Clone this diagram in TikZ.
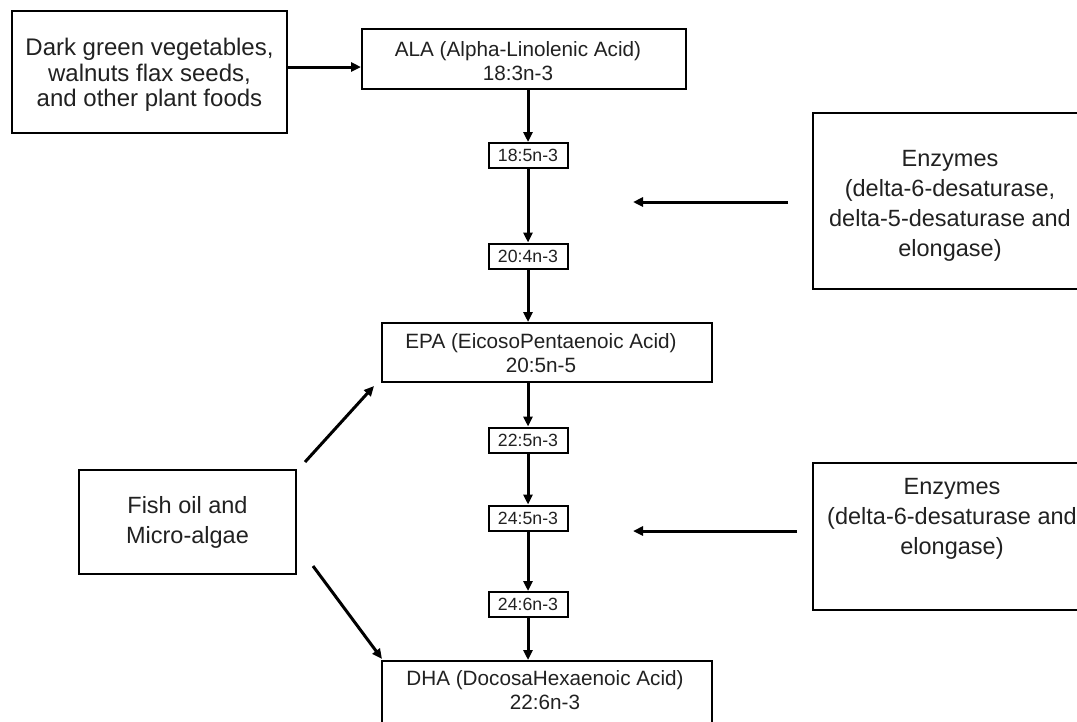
\documentclass[tikz,border=0pt]{standalone}
\usepackage{fontspec}
\setmainfont{Liberation Sans}
\usetikzlibrary{arrows.meta}
\definecolor{txtcol}{gray}{0.13}
\begin{document}
\begin{tikzpicture}[x=1pt,y=-1pt,
  boxst/.style={draw=black, line width=2pt, rectangle, inner sep=0pt},
  bigtxt/.style={font=\fontsize{23.5}{28.5}\selectfont, align=center, text=txtcol, inner sep=0pt},
  midtxt/.style={font=\fontsize{20.7}{24}\selectfont, align=center, text=txtcol, inner sep=0pt},
  smallbox/.style={draw=black, line width=2pt, minimum width=79pt, minimum height=25pt, inner sep=0pt, font=\fontsize{17.7}{20}\selectfont, text=txtcol},
  arr/.style={line width=3pt, -{Triangle[length=10pt,width=9pt]}},
]
\useasboundingbox (0,0) rectangle (1077,721);
\clip (0,0) rectangle (1077,721);
\fill[white] (0,0) rectangle (1077,721);

% source box
\node[boxst, minimum width=275pt, minimum height=122pt] (src) at (149.5,72) {};
\node[bigtxt, font=\fontsize{24}{25.5}\selectfont] (srcT) at (149.5,75) {Dark green vegetables,\\walnuts flax seeds,\\and other plant foods};

% ALA
\node[boxst, minimum width=324pt, minimum height=60pt] (ala) at (524,59) {};
\node[midtxt] (alaT) at (518,61) {ALA (Alpha-Linolenic Acid)\\18:3n-3};

% small boxes
\node[smallbox] (s1) at (528,155.5) {18:5n-3};
\node[smallbox] (s2) at (528,256) {20:4n-3};

% EPA
\node[boxst, minimum width=330pt, minimum height=59pt] (epa) at (547,352.5) {};
\node[midtxt] (epaT) at (541,353) {EPA (EicosoPentaenoic Acid)\\20:5n-5};

\node[smallbox] (s3) at (528,440) {22:5n-3};
\node[smallbox] (s4) at (528,518) {24:5n-3};
\node[smallbox] (s5) at (528,604.5) {24:6n-3};

% DHA
\node[boxst, minimum width=330pt, minimum height=84pt] (dha) at (547,703) {};
\node[midtxt] (dhaT) at (545,690.5) {DHA (DocosaHexaenoic Acid)\\22:6n-3};

% enzyme boxes
\node[boxst, minimum width=280pt, minimum height=176pt] (enz1) at (953,201) {};
\node[bigtxt, font=\fontsize{23.5}{30}\selectfont] (enz1T) at (950,206) {Enzymes\\(delta-6-desaturase,\\delta-5-desaturase and\\elongase)};
\node[boxst, minimum width=280pt, minimum height=147pt] (enz2) at (953,536.5) {};
\node[bigtxt, font=\fontsize{23.5}{30}\selectfont] (enz2T) at (952,519) {Enzymes\\(delta-6-desaturase and\\elongase)};

% fish box
\node[boxst, minimum width=217pt, minimum height=104pt] (fish) at (187.5,522) {};
\node[bigtxt, font=\fontsize{23.5}{30}\selectfont] (fishT) at (187.5,522) {Fish oil and\\Micro-algae};

% free ends
\coordinate (e1s) at (788,202);
\coordinate (e1t) at (633,202);
\coordinate (e2s) at (797,531);
\coordinate (e2t) at (633,531);
\coordinate (f1s) at (305,462);
\coordinate (f1t) at (374,386);
\coordinate (f2s) at (313,566);
\coordinate (f2t) at (382,659);
\coordinate (srcy) at (0,67);

% connectors
\draw[arr] (src.east |- srcy) -- (ala.west |- srcy);
\draw[arr] (s1.north |- ala.south) -- (s1.north);
\draw[arr] (s1.south) -- (s2.north);
\draw[arr] (s2.south) -- (s2.south |- epa.north);
\draw[arr] (s3.north |- epa.south) -- (s3.north);
\draw[arr] (s3.south) -- (s4.north);
\draw[arr] (s4.south) -- (s5.north);
\draw[arr] (s5.south) -- (s5.south |- dha.north);
\draw[arr] (e1s) -- (e1t);
\draw[arr] (e2s) -- (e2t);
\draw[arr] (f1s) -- (f1t);
\draw[arr] (f2s) -- (f2t);
\end{tikzpicture}
\end{document}
